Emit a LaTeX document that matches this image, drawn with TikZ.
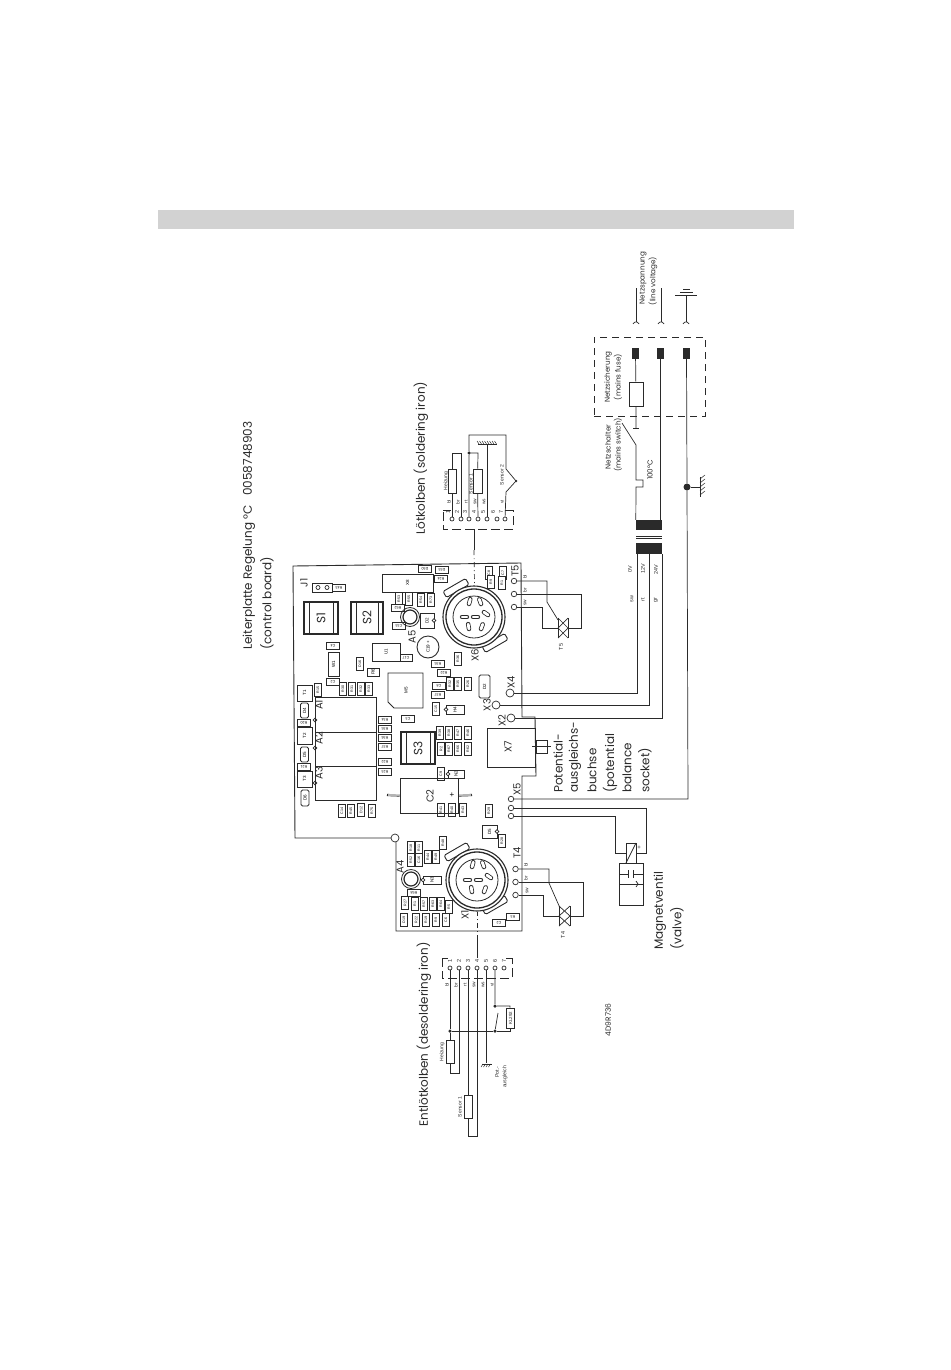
\documentclass[tikz,border=0pt]{standalone}
\usepackage{fontspec}
\setmainfont{Liberation Sans}
\newfontfamily\cadfont{Poppins}
\usetikzlibrary{calc}
\definecolor{inkgray}{HTML}{2A2A2A}
\definecolor{bandgray}{HTML}{D2D2D2}
\tikzset{
  wire/.style={draw=inkgray,line width=0.7pt},
  term/.style={draw=inkgray,circle,line width=0.7pt,inner sep=0pt,minimum size=5.5pt},
  bigterm/.style={term,minimum size=8pt},
  pinterm/.style={term,minimum size=4pt},
  partv/.style={draw=inkgray,line width=0.8pt,fill=white,rotate=90,inner sep=0pt,minimum width=13pt,minimum height=7pt,font=\fontsize{3.6}{4}\selectfont},
  parth/.style={draw=inkgray,line width=0.8pt,fill=white,rotate=180,inner sep=0pt,minimum width=13pt,minimum height=7pt,font=\fontsize{3.6}{4}\selectfont},
  chip/.style={draw=inkgray,line width=0.8pt,fill=white,rotate=90,inner sep=0pt,font=\fontsize{4.5}{5}\selectfont},
  title/.style={rotate=90,anchor=west,inner sep=0pt,text=inkgray,font=\cadfont\fontsize{12}{14}\selectfont},
  board/.style={rotate=90,inner sep=0pt,text=inkgray,font=\cadfont\fontsize{10}{12}\selectfont},
  note/.style={rotate=90,inner sep=0pt,text=inkgray,font=\cadfont\fontsize{7.2}{9}\selectfont},
  tiny/.style={rotate=90,inner sep=0pt,text=inkgray,font=\fontsize{4.8}{6}\selectfont},
  dot/.style={circle,fill=inkgray,inner sep=0pt,minimum size=3.5pt},
  blackterm/.style={fill=inkgray,draw=none,inner sep=0pt,minimum width=7pt,minimum height=11pt},
  notch/.style={draw=inkgray,line width=0.7pt,fill=white},
}
\begin{document}
\begin{tikzpicture}[x=1pt,y=-1pt]
\useasboundingbox (0,0) rectangle (950,1370);
\fill[bandgray] (158,210) rectangle (794,229);

% Control board outline
\draw[wire,line width=0.9pt] (391,838) -- (295,838) -- (293,566) -- (521,563) -- (522,717) -- (535,717) -- (536,776)
  -- (522,776) -- (522,931) -- (396,931) -- (396,842);
\draw[wire] (395,838) circle (4pt);

% Titles
\node[title] at (249,650) {Leiterplatte Regelung °C\ \ \ 0058748903};
\node[title] at (267,650) {(control board)};
\node[title] at (421,535) {Lötkolben (soldering iron)};
\node[title] at (424,1127) {Entlötkolben (desoldering iron)};
\node[title] at (558,793) {Potential-};
\node[title] at (575,793) {ausgleichs-};
\node[title] at (592,793) {buchse};
\node[title] at (610,793) {(potential};
\node[title] at (627,793) {balance};
\node[title] at (645,793) {socket)};
\node[title] at (660,950) {Magnetventil};
\node[title] at (677,950) {(valve)};

% Board labels
\foreach \x/\y/\l in {304/583/J1,412/637/A5,400/867/A4,475/655/X6,465/915/X1,515/571/T5,517/853/T4,
  511/682/X4,487/705/X3,502/721/X2,517/789/X5,319/705/A1,319/738/A2,319/773/A3}
  \node[board] at (\x,\y) {\l};

% Small parts, vertical
\foreach \x/\y/\l in {318/690/R15,343/689/R30,352/689/R31,361/689/R32,369/689/R33,399/599/R53,409/599/R55,
  421/600/R54,431/600/R73,360/664/D16,458/659/R36,450/684/R32,458/684/R35,468/684/R26,489/573/C8,503/573/C7,
  491/582/R9,502/583/R1,436/709/C15,440/733/R39,449/733/R38,458/733/R47,468/733/R46,441/749/R2,449/749/R67,
  458/749/R66,468/749/R62,342/811/C14,351/811/R45,361/810/D12,372/811/R75,441/810/R41,452/810/R40,463/810/R43,
  489/811/R29,502/841/R28,411/848/R18,419/848/R11,443/843/R48,411/860/R52,419/860/C16,428/857/R44,436/857/R49,
  405/903/R27,415/904/R1,424/904/R57,433/904/R63,441/904/R64,449/907/R5,404/920/D19,416/920/R22,426/920/R19,
  436/920/R9,446/920/C6,441/774/C9}
  \node[partv] (p\x-\y) at (\x,\y) {\l};

% Small parts, horizontal
\foreach \x/\y/\l in {425/569/D30,442/570/D33,441/579/R24,339/588/R43,333/646/C4,333/682/C2,398/608/R52,399/626/C33,
  406/658/C17,438/664/R35,444/673/R22,439/686/C8,438/695/R37,304/723/R20,385/720/R34,385/729/R35,385/738/R36,
  385/747/R37,408/719/C3,385/762/R22,385/772/R23,304/767/R21,414/893/R58,513/917/R3,499/923/C2}
  \node[parth] (q\x-\y) at (\x,\y) {\l};

% Larger parts
\node[chip,minimum width=16pt,minimum height=15pt] (t1) at (304.5,693) {T1};
\node[chip,minimum width=17pt,minimum height=15pt] (t2) at (304.5,736) {T2};
\node[chip,minimum width=16pt,minimum height=15pt] (t3) at (304.5,779) {T3};
\node[chip,rounded corners=1.5pt,minimum width=15pt,minimum height=8pt] (d4) at (304.5,710.5) {D4};
\node[chip,rounded corners=1.5pt,minimum width=15pt,minimum height=8pt] (d5) at (304.5,754.5) {D5};
\node[chip,rounded corners=1.5pt,minimum width=16pt,minimum height=8pt] (d6) at (305,798) {D6};
\node[chip,minimum width=24pt,minimum height=11pt] (w1) at (333.5,664) {W1};
\node[chip,minimum width=8pt,minimum height=12pt] (r6) at (373,672) {R6};
\node[chip,minimum width=18pt,minimum height=28pt] (u1) at (386,652) {U1};
\node[chip,minimum width=18pt,minimum height=51pt] (x8) at (407.5,583) {X8};
\node[chip,minimum width=15pt,minimum height=14pt] (d2a) at (427,620.5) {D2};
\node[chip,rounded corners=1.5pt,minimum width=23pt,minimum height=11pt] (d2b) at (484.5,686.5) {D2};
\node[chip,minimum width=9pt,minimum height=18pt] (h4) at (455,709.5) {H4};
\node[chip,minimum width=8pt,minimum height=16pt] (n2) at (456,774) {N2};
\node[chip,minimum width=8pt,minimum height=18pt] (n3) at (432,880) {N3};
\node[chip,minimum width=13pt,minimum height=15pt] (d5b) at (489.5,831.5) {D5};
\foreach \x/\y in {434/620.5,446/709.5,448/774,423/880,497/831.5,315/720,315/748,315/783}
  \draw[notch] (\x,\y) circle (1.8pt);
\draw[wire,line width=0.8pt] (312,583) rectangle (332,592);
\draw[wire] (318,587.5) circle (2pt) (327,587.5) circle (2pt);
\draw[wire,line width=0.9pt] (388,673) -- (423,673) -- (423,708) -- (394,708) -- (388,702) -- cycle;
\node[chip,draw=none,fill=none] at (406,690) {M5};

% Switches S1 S2 S3
\foreach \xa/\xb/\ya/\yb/\l/\n in {304/338/602/634/S1/sone,351/383/602/634/S2/stwo,401/435/732/764/S3/sthree}{
  \node[draw=inkgray,line width=1.4pt,inner sep=0pt,minimum width=\xb pt-\xa pt,minimum height=\yb pt-\ya pt]
    (\n) at ({(\xa+\xb)/2},{(\ya+\yb)/2}) {};
  \draw[wire] (\xa+5,\ya) -- (\xa+5,\yb) (\xb-5,\ya) -- (\xb-5,\yb);
  \node[board,font=\cadfont\fontsize{12}{14}\selectfont] at (\n) {\l};
}

% Relays A1 A2 A3
\draw[wire,line width=0.9pt] (315,697) rectangle (376,800);
\draw[wire,line width=0.9pt] (315,732) -- (376,732) (315,766) -- (376,766);

% Capacitors
\node[draw=inkgray,line width=0.9pt,minimum width=58pt,minimum height=35pt,inner sep=0pt] (ctwo) at (429,795.5) {};
\node[board] at (430,796) {C2};
\node[font=\fontsize{8}{9}\selectfont,inner sep=0pt] at (452,795) {+};
\draw[wire,line width=2.2pt,rounded corners=1pt] (387,795) -- (ctwo.west);
\draw[wire,line width=2.2pt,rounded corners=1pt] (ctwo.east) -- (472,795);
\fill[white] (388,794.4) rectangle (399.5,795.6) (459,794.4) rectangle (471,795.6);
\node[draw=inkgray,line width=0.9pt,circle,minimum size=22pt,inner sep=0pt,font=\fontsize{4.5}{5}\selectfont,rotate=90] (cnineteen) at (428,647) {C19\,+};

% Ring parts A4 A5
\foreach \x/\y in {410/617,411/879}{
  \draw[wire,line width=0.8pt] (\x,\y) circle (9.5pt);
  \draw[wire,line width=1.2pt] (\x,\y) circle (7pt);
}

% Round plugs X6 X1
\foreach \x/\y/\la/\lb/\ma/\mb in {474/617/-18/-29/21/26,477/880/-20/-28/18/25}{
  \begin{scope}[shift={(\x,\y)}]
    \draw[wire,line width=0.9pt,fill=white,rounded corners=1.5pt,rotate around={30:(\la,\lb)}] (\la-13,\lb-3.5) rectangle (\la+13,\lb+3.5);
    \draw[wire,line width=0.9pt,fill=white,rounded corners=1.5pt,rotate around={30:(\ma,\mb)}] (\ma-13,\mb-3.5) rectangle (\ma+13,\mb+3.5);
    \draw[wire,line width=1.1pt,fill=white] (0,0) circle (31pt);
    \draw[wire,line width=1.3pt] (0,0) circle (28pt);
    \draw[wire,line width=0.8pt] (0,0) circle (21pt);
    \foreach \px/\py/\a in {-5/-13/75,7/-13/110,14/-2/145,-12/0/0,-1/0/0,-5/12/100,7/12/70}
      \draw[inkgray,line width=4.4pt,line cap=round] (\px,\py) -- ++(\a:5pt);
    \foreach \px/\py/\a in {-5/-13/75,7/-13/110,14/-2/145,-12/0/0,-1/0/0,-5/12/100,7/12/70}
      \draw[white,line width=2.8pt,line cap=round] (\px,\py) -- ++(\a:5pt);
  \end{scope}
}

% X7 socket
\node[draw=inkgray,line width=0.9pt,minimum width=48pt,minimum height=39pt,inner sep=0pt] (xseven) at (511,747.5) {};
\node[board] at (508,747) {X7};
\draw[wire] (536,740) rectangle (547,753);
\draw[wire] (532,746) -- (551,746);

% Terminals on the board edge
\node[bigterm] (xfour) at (510,693) {};
\node[bigterm] (xthree) at (496,705) {};
\node[bigterm] (xtwo) at (511,718) {};
\foreach \y/\n in {799/a,808/b,816/c}
  \node[term] (xfive\n) at (511,\y) {};
\foreach \y/\n in {581/a,594/b,607/c}
  \node[term] (tfive\n) at (514,\y) {};
\foreach \y/\n in {869/a,882/b,895/c}
  \node[term] (tfour\n) at (515.5,\y) {};
\foreach \x/\y/\l in {525/577/bl,525/590/br,525/603/sw,526/865/bl,526/878/br,527/891/sw}
  \node[tiny] at (\x,\y) {\l};

% Triac T5
\coordinate (tfivegate) at (558,620);
\coordinate (tfiveleft) at (558,628);
\coordinate (tfiveright) at (568,628);
\draw[wire] (558,618) -- (558,638) (568,618) -- (568,638);
\draw[wire] (568,618) -- (558,628) -- (568,638);
\draw[wire] (558,618) -- (568,628) -- (558,638);
\draw[wire] (tfivea) -- (547,581) -- (547,602) -- (tfivegate);
\draw[wire] (tfiveb) -- (581,594) -- (581,628) -- (tfiveright);
\draw[wire] (tfivec) -- (542,607) -- (542,628) -- (tfiveleft);
\node[tiny,font=\fontsize{5.5}{6}\selectfont] at (561,647) {T5};

% Triac T4
\coordinate (tfourgate) at (560,908);
\coordinate (tfourleft) at (559,916);
\coordinate (tfourright) at (570,916);
\draw[wire] (559,906) -- (559,926) (570,906) -- (570,926);
\draw[wire] (570,906) -- (559,916) -- (570,926);
\draw[wire] (559,906) -- (570,916) -- (559,926);
\draw[wire] (tfoura) -- (549,869) -- (549,883) -- (tfourgate);
\draw[wire] (tfourb) -- (583,882) -- (583,916) -- (tfourright);
\draw[wire] (tfourc) -- (543,895) -- (543,916) -- (tfourleft);
\node[tiny,font=\fontsize{5.5}{6}\selectfont] at (563,935) {T4};

% Valve
\node[draw=inkgray,line width=0.8pt,minimum width=10pt,minimum height=20pt,inner sep=0pt] (coil) at (631,853) {};
\draw[wire] (636,843) -- (626,863);
\node[draw=inkgray,line width=0.8pt,minimum width=24pt,minimum height=42pt,inner sep=0pt] (valve) at (631,884) {};
\draw[wire] (619,884) -- (643,884);
\draw[wire] (619,874) -- (628,874) (628,870) -- (628,878);
\draw[wire] (643,874) -- (633,874) (633,870) -- (633,878);
\draw[wire] (636,881) -- (638,884) -- (636,887);
\node[inner sep=0pt,font=\fontsize{6}{7}\selectfont,text=inkgray] at (639,848) {+};
\draw[wire] (xfivec) -- (615,816) -- (615,853) -- (coil.west);
\draw[wire] (xfiveb) -- (646,808) -- (646,853) -- (coil.east);

% Transformer
\node[blackterm,minimum width=26pt,minimum height=10pt] (primary) at (649,525) {};
\node[blackterm,minimum width=26pt,minimum height=11pt] (secondary) at (649,548.5) {};
\draw[wire] (636,536) -- (662,536) (636,538.5) -- (662,538.5);
\coordinate (seczero) at (637,554);
\coordinate (sectwelve) at (649,554);
\coordinate (sectwenty) at (662.5,554);
\draw[wire] (xfour) -| (seczero);
\draw[wire] (xthree) -| (sectwelve);
\draw[wire] (xtwo) -| (sectwenty);
\foreach \x/\y/\l in {630/569/0V,643/569/12V,656/570/24V,632/599/sw,643/600/rt,656/600/gr}
  \node[tiny,font=\fontsize{5.4}{6}\selectfont] at (\x,\y) {\l};

% Mains side
\node[draw=inkgray,dashed,dash pattern=on 7pt off 5pt,line width=0.7pt,minimum width=111pt,minimum height=79pt,inner sep=0pt] (fusebox) at (649.5,376.5) {};
\node[blackterm] (mainsa) at (635.5,353.5) {};
\node[blackterm] (mainsb) at (660.5,353.5) {};
\node[blackterm] (mainsc) at (686.5,353.5) {};
\node[draw=inkgray,line width=0.8pt,minimum width=14pt,minimum height=24pt,inner sep=0pt] (fuse) at (636,394) {};
\coordinate (contact) at (636,428);
\coordinate (switchtip) at (622,423);
\draw[wire] (mainsa) -- (fuse) -- (contact);
\draw[wire] (633,428) -- (639,428);
\draw[wire] (switchtip) -- (636,445) -- (636,480) -- (643,480) -- (643,487) -- (636,487) -- (primary.north west);
\draw[wire] (mainsb) -- (mainsb|-primary.north);
\node[dot,minimum size=7pt] (earthdot) at (687,487) {};
\coordinate (earthend) at (688,799);
\draw[wire] (mainsc) -- (earthdot) -- (earthend) -- (xfivea);
\coordinate (chassis) at (700,487);
\draw[wire] (earthdot) -- (chassis);
\draw[wire] (700,477) -- (700,497);
\foreach \y in {479,483,...,497}
  \draw[wire,line width=0.5pt] (700,\y) -- ++(5,-4);

% Mains plugs
\foreach \x/\t/\n in {636/288/plugl,661/288/plugn,686/295/plugg}{
  \coordinate (\n) at (\x,\t);
  \coordinate (\n end) at (\x,322);
  \draw[wire] (\n) -- (\n end);
  \draw[wire] (\x-3,324) .. controls (\x-2,322) and (\x-1,322) .. (\n end) .. controls (\x+1,322) and (\x+2,322) .. (\x+3,324);
}
\draw[wire,line width=0.9pt] (675,295) -- (697,295);
\draw[wire,line width=0.8pt] (680,292) -- (693,292);
\draw[wire,line width=0.8pt] (683,289) -- (690,289);

% Mains notes
\node[note] at (643,278) {Netzspannung};
\node[note] at (653,281) {(line voltage)};
\node[note] at (608,377) {Netzsicherung};
\node[note] at (618,377) {(mains fuse)};
\node[note] at (608,447) {Netzschalter};
\node[note] at (618,445) {(mains switch)};
\node[note] at (650,470) {100°C};
\node[note,font=\cadfont\fontsize{7.5}{9}\selectfont] at (608,1020) {4D9R736};

% Soldering iron plug
\draw[inkgray,dashed,line width=0.8pt,dash pattern=on 9pt off 4pt] (443,512) -- (443,529) -- (513,529) -- (513,510) (443,510) -- (451,510) (505,510) -- (513,510);
\foreach \x/\n/\l in {452/1/bl,461/2/br,469/3/rt,478/4/sw,487/5/ws,497/6/{},505/7/vi}{
  \node[pinterm] (iron\n) at (\x,519) {};
  \node[tiny,font=\fontsize{5.5}{6}\selectfont] at (\x-4,512) {\n};
  \node[tiny] at (\x-3,502) {\l};
}
\coordinate (ironcable) at (474,529);
\coordinate (ironend) at (474,550);
\draw[wire] (ironcable) -- (ironend);
\draw[wire,dash pattern=on 5pt off 3pt on 1pt off 3pt] (ironend) -- (474.5,586);
\node[draw=inkgray,line width=0.8pt,minimum width=8pt,minimum height=24pt,inner sep=0pt] (heatera) at (452,481) {};
\node[draw=inkgray,line width=0.8pt,minimum width=9pt,minimum height=24pt,inner sep=0pt] (sensora) at (477.5,481) {};
\node[dot] (ironjoin) at (469,453) {};
\coordinate (gndone) at (487,445);
\coordinate (tcup) at (506,469);
\coordinate (tctip) at (516,481);
\coordinate (tclow) at (506,492);
\draw[wire] (iron1) -- (heatera);
\draw[wire] (heatera) -- (452,453) -- (461,453) -- (iron2);
\draw[wire] (iron3) -- (ironjoin) -- (469,435) -- (506,435) -- (tcup) -- (tctip) -- (tclow) -- (iron7);
\draw[wire] (iron4) -- (sensora) -- (478,453) -- (ironjoin);
\draw[wire] (iron5) -- (gndone);
\draw[wire] (478,444) -- (497,444);
\foreach \x in {479,481.5,...,497}
  \draw[wire,line width=0.5pt] (\x,444) -- ++(-2,-3);
\node[dot,minimum size=2.5pt] at (tctip) {};
\node[tiny,font=\fontsize{5}{6}\selectfont] at (446,481) {Heizung};
\node[tiny,font=\fontsize{5}{6}\selectfont] at (471,484) {Sensor 1};
\node[tiny,font=\fontsize{5}{6}\selectfont] at (502,475) {Sensor 2};

% Desoldering iron plug
\draw[inkgray,dashed,line width=0.8pt,dash pattern=on 9pt off 4pt] (442,958) -- (442,978) -- (512,978) -- (512,958) (442,958) -- (448,958) (506,958) -- (512,958);
\foreach \x/\n/\l in {450/1/bl,459/2/br,468/3/rt,477/4/sw,486/5/ws,495/6/vi,504/7/{}}{
  \node[pinterm] (suck\n) at (\x,968) {};
  \node[tiny,font=\fontsize{5.5}{6}\selectfont] at (\x,961) {\n};
  \node[tiny] at (\x-3,985) {\l};
}
\coordinate (suckcable) at (477,958);
\coordinate (suckend) at (477,940);
\draw[wire] (suckcable) -- (suckend);
\draw[wire,dash pattern=on 5pt off 3pt on 1pt off 3pt] (suckend) -- (477,912);
\node[draw=inkgray,line width=0.8pt,minimum width=8pt,minimum height=23pt,inner sep=0pt] (heaterb) at (450,1051.5) {};
\node[draw=inkgray,line width=0.8pt,minimum width=8pt,minimum height=23pt,inner sep=0pt] (sensorb) at (468,1106.5) {};
\node[draw=inkgray,line width=0.8pt,minimum width=8pt,minimum height=20pt,inner sep=0pt] (reed) at (510.5,1018) {};
\node[tiny,font=\fontsize{4.5}{5}\selectfont] at (510.5,1018) {KL292};
\node[dot] (suckjoin) at (450,1031) {};
\node[dot] (suckmid) at (495,1031) {};
\node[dot] (sucktop) at (495,1006) {};
\coordinate (gndtwo) at (486,1063);
\draw[wire] (suck1) -- (suckjoin) -- (heaterb);
\draw[wire] (heaterb) -- (450,1073) -- (459,1073) -- (suck2);
\draw[wire] (suck3) -- (sensorb) -- (468,1136) -- (477,1136) -- (suck4);
\draw[wire] (suck5) -- (gndtwo);
\draw[wire] (482,1064) -- (492,1064);
\foreach \x in {483,485.5,...,492}
  \draw[wire,line width=0.5pt] (\x,1064) -- ++(-2,3);
\draw[wire] (suck6) -- (sucktop) -- (510,1006) -- (reed);
\draw[wire] (reed) -- (510.5,1031) -- (suckmid) -- (suckjoin);
\draw[wire] (suckmid) -- (498,1013);
\node[tiny,font=\fontsize{5}{6}\selectfont] at (442,1052) {Heizung};
\node[tiny,font=\fontsize{5}{6}\selectfont] at (460,1107) {Sensor 1};
\node[tiny,font=\fontsize{5.2}{6}\selectfont] at (497,1072) {Pot.-};
\node[tiny,font=\fontsize{5.2}{6}\selectfont] at (505,1077) {ausgleich};
\end{tikzpicture}
\end{document}
